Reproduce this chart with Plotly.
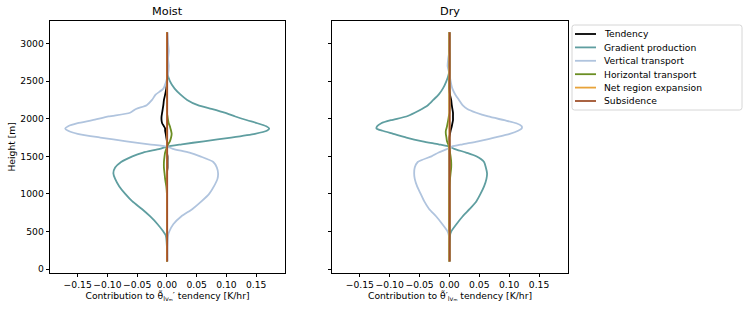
import plotly.graph_objects as go

heights = [100, 300, 450, 500, 600, 700, 800, 900, 1000, 1100, 1200, 1275, 1350, 1425,
           1500, 1550, 1600, 1630, 1660, 1700, 1750, 1800, 1840, 1870, 1900, 1940, 1980,
           2030, 2080, 2130, 2180, 2250, 2320, 2400, 2500, 2600, 2700, 2800, 2900, 3000, 3150]

series_names = ["Tendency", "Gradient production", "Vertical transport",
                "Horizontal transport", "Net region expansion", "Subsidence"]
series_colors = ["#000000", "#5F9EA0", "#B0C4DE", "#6B8E23", "#E8A33A", "#A0522D"]

# ---- Moist panel ----
moist_tendency = [0, 0, 0, 0, 0, 0, 0, 0, 0, 0, 0, 0, 0.001, 0.001,
                  0.001, 0, 0, 0, 0, 0, -0.001, -0.002, -0.003, -0.003, -0.005, -0.008, -0.009,
                  -0.009, -0.008, -0.007, -0.006, -0.005, -0.003, -0.001, 0, 0, 0, 0, 0, 0, 0]
moist_gradient = [0, 0, -0.002, -0.006, -0.016, -0.028, -0.042, -0.058, -0.070, -0.080, -0.087, -0.090, -0.087, -0.077,
                  -0.058, -0.040, -0.012, 0.0, 0.025, 0.062, 0.108, 0.148, 0.168, 0.172, 0.167, 0.152, 0.135,
                  0.115, 0.097, 0.075, 0.052, 0.034, 0.023, 0.013, 0.005, 0.001, 0, 0, 0, 0, 0]
moist_vertical = [0.001, 0.001, 0.002, 0.004, 0.011, 0.024, 0.043, 0.058, 0.071, 0.079, 0.085, 0.086, 0.084, 0.078,
                  0.056, 0.038, 0.010, 0.0, -0.030, -0.068, -0.112, -0.150, -0.166, -0.171, -0.166, -0.150, -0.125,
                  -0.098, -0.062, -0.052, -0.034, -0.025, -0.019, -0.006, -0.001, 0.002, 0.003, 0.002, 0.003, 0.002, 0.001]
moist_horizontal = [0, 0, 0, 0, 0, 0, 0, 0, 0, -0.001, -0.003, -0.004, -0.005, -0.005,
                    -0.004, -0.003, -0.001, 0, 0.002, 0.005, 0.007, 0.008, 0.007, 0.006, 0.005, 0.003, 0.002,
                    0.001, 0, 0, 0, 0, 0, 0, 0, 0, 0, 0, 0, 0, 0]
moist_expansion = [0, 0, 0, 0, 0, 0, 0, 0, 0, 0, 0, 0, 0, 0,
                   0, 0, 0, 0, 0, 0, 0, 0, 0, 0, 0, 0, 0,
                   0, 0, 0, 0, 0, 0, 0, 0, 0, 0, 0, 0, 0, 0]
moist_subsidence = [0.0005, 0.0005, 0.0005, 0.0005, 0.0005, 0.0005, 0.0005, 0.0005, 0.0005, 0.0005, 0.0005, 0.0005, 0.0005, 0.0005,
                    0.0005, 0.0005, 0.0005, 0.0005, 0.0005, 0.0005, 0.0005, 0.0005, 0.0005, 0.0005, 0.0005, 0.0005, 0.0005,
                    0.0005, 0.0005, 0.0005, 0.0005, 0.0005, 0.0005, 0.0005, 0.0005, 0.0005, 0.0005, 0.0005, 0.0005, 0.0005, 0.0005]

# ---- Dry panel ----
dry_tendency = [0, 0, 0, 0, 0, 0, 0, 0, 0, 0, 0, 0, 0, 0,
                0, 0, 0, 0, 0, 0, 0, 0.001, 0.002, 0.003, 0.004, 0.005, 0.006,
                0.006, 0.006, 0.005, 0.004, 0.003, 0.001, 0, 0, 0, 0, 0, 0, 0, 0]
dry_gradient = [0, 0, 0.001, 0.003, 0.012, 0.022, 0.034, 0.045, 0.052, 0.058, 0.062, 0.063, 0.061, 0.058,
                0.045, 0.028, 0.008, 0.0, -0.018, -0.045, -0.072, -0.094, -0.112, -0.122, -0.121, -0.114, -0.098,
                -0.072, -0.058, -0.046, -0.036, -0.027, -0.018, -0.011, -0.005, -0.001, 0, 0, 0, 0, 0]
dry_vertical = [0, 0, -0.001, -0.003, -0.012, -0.022, -0.034, -0.042, -0.048, -0.054, -0.058, -0.059, -0.058, -0.053,
                -0.030, -0.018, -0.003, 0.004, 0.022, 0.048, 0.075, 0.101, 0.115, 0.121, 0.121, 0.112, 0.092,
                0.065, 0.045, 0.030, 0.022, 0.016, 0.010, 0.005, 0.002, 0, -0.003, -0.002, 0, 0, 0]
dry_horizontal = [0, 0, 0, 0, 0, 0, 0, 0, 0, 0, 0.001, 0.002, 0.003, 0.003,
                  0.002, 0.001, 0, -0.001, -0.002, -0.004, -0.005, -0.006, -0.006, -0.005, -0.004, -0.003, -0.002,
                  -0.001, 0, 0, 0, 0, 0, 0, 0, 0, 0, 0, 0, 0, 0]
dry_expansion = [0, 0, 0, 0, 0, 0, 0, 0, 0, 0, 0, 0, 0, 0,
                 0, 0, 0, 0, 0, 0, 0, 0, 0, 0, 0, 0, 0,
                 0, 0, 0, 0, 0, 0, 0, 0, 0, 0, 0, 0, 0, 0]
dry_subsidence = [0.0005, 0.0005, 0.0005, 0.0005, 0.0005, 0.0005, 0.0005, 0.0005, 0.0005, 0.0005, 0.0005, 0.0005, 0.0005, 0.0005,
                  0.0005, 0.0005, 0.0005, 0.0005, 0.0005, 0.0005, 0.0005, 0.0005, 0.0005, 0.0005, 0.0005, 0.0005, 0.0005,
                  0.0005, 0.0005, 0.0005, 0.0005, 0.0005, 0.0005, 0.0005, 0.0005, 0.0005, 0.0005, 0.0005, 0.0005, 0.0005, 0.0005]

x_ticks = [-0.15, -0.10, -0.05, 0.00, 0.05, 0.10, 0.15]
y_ticks = [0, 500, 1000, 1500, 2000, 2500, 3000]
panel_titles = ["Moist", "Dry"]
x_titles = ["Contribution to θ̃<sub>lvₘ</sub>′ tendency [K/hr]",
            "Contribution to θ̃′<sub>lvₘ</sub> tendency [K/hr]"]
y_title = "Height [m]"

W, H = 748, 313
FONT = "DejaVu Sans"
TICK_SIZE = 9.2
LABEL_SIZE = 9.2
TITLE_SIZE = 11.3

moist = [moist_tendency, moist_gradient, moist_vertical, moist_horizontal, moist_expansion, moist_subsidence]
dry = [dry_tendency, dry_gradient, dry_vertical, dry_horizontal, dry_expansion, dry_subsidence]

fig = go.Figure()
for panel, (xa, ya, data) in enumerate([("x", "y", moist), ("x2", "y2", dry)]):
    for i, vals in enumerate(data):
        fig.add_trace(go.Scatter(
            x=vals, y=heights, mode="lines", name=series_names[i],
            line=dict(color=series_colors[i], width=1.8, shape="spline", smoothing=0.6),
            xaxis=xa, yaxis=ya, showlegend=False,
        ))


def px_x(p):
    return p / W


def px_y(p):
    return 1 - p / H


axis_common = dict(
    showgrid=False, zeroline=False, showline=True, linecolor="black", linewidth=0.8,
    mirror=True, ticks="outside", ticklen=3.5, tickwidth=0.8, tickcolor="black",
    tickfont=dict(family=FONT, size=TICK_SIZE, color="black"), automargin=False,
    tickangle=0,
)
xdom1 = [px_x(50), px_x(285)]
xdom2 = [px_x(332), px_x(568)]
ydom = [px_y(272.7), px_y(21)]
xrange = [-0.1965, 0.1985]
yrange = [-48, 3300]

lab_font = dict(family=FONT, size=LABEL_SIZE, color="black")
fig.update_layout(
    width=W, height=H, margin=dict(l=0, r=0, t=0, b=0, autoexpand=False),
    paper_bgcolor="white", plot_bgcolor="white",
    font=dict(family=FONT, size=TICK_SIZE, color="black"),
    showlegend=False,
    xaxis=dict(domain=xdom1, range=xrange, tickvals=x_ticks, tickformat=".2f", anchor="y",
               title=dict(text=x_titles[0], font=lab_font, standoff=3), **axis_common),
    xaxis2=dict(domain=xdom2, range=xrange, tickvals=x_ticks, tickformat=".2f", anchor="y2",
                title=dict(text=x_titles[1], font=lab_font, standoff=3), **axis_common),
    yaxis=dict(domain=ydom, range=yrange, tickvals=y_ticks, anchor="x",
               title=dict(text=y_title, font=lab_font, standoff=3), **axis_common),
    yaxis2=dict(domain=ydom, range=yrange, tickvals=y_ticks, anchor="x2", matches="y",
                showticklabels=False, **axis_common),
)

for title, dom in zip(panel_titles, [xdom1, xdom2]):
    fig.add_annotation(text=title, x=(dom[0] + dom[1]) / 2, y=ydom[1], xref="paper", yref="paper",
                       xanchor="center", yanchor="bottom", yshift=1, showarrow=False,
                       font=dict(family=FONT, size=TITLE_SIZE, color="black"))

# ---- legend box (matplotlib-style framed key) ----
lx0, lx1, ly0, ly1, r = 572, 742, 25, 110, 2.5
path = (f"M {px_x(lx0 + r)},{px_y(ly0)} L {px_x(lx1 - r)},{px_y(ly0)} "
        f"Q {px_x(lx1)},{px_y(ly0)} {px_x(lx1)},{px_y(ly0 + r)} "
        f"L {px_x(lx1)},{px_y(ly1 - r)} Q {px_x(lx1)},{px_y(ly1)} {px_x(lx1 - r)},{px_y(ly1)} "
        f"L {px_x(lx0 + r)},{px_y(ly1)} Q {px_x(lx0)},{px_y(ly1)} {px_x(lx0)},{px_y(ly1 - r)} "
        f"L {px_x(lx0)},{px_y(ly0 + r)} Q {px_x(lx0)},{px_y(ly0)} {px_x(lx0 + r)},{px_y(ly0)} Z")
fig.add_shape(type="path", path=path, xref="paper", yref="paper",
              line=dict(color="#d6d6d6", width=1), fillcolor="rgba(255,255,255,0.8)", layer="above")
row0, row_step = 34.0, 13.4
for i, (name, color) in enumerate(zip(series_names, series_colors)):
    yc = row0 + i * row_step
    fig.add_shape(type="line", xref="paper", yref="paper",
                  x0=px_x(575), x1=px_x(596), y0=px_y(yc), y1=px_y(yc),
                  line=dict(color=color, width=1.8), layer="above")
    fig.add_annotation(text=name, x=px_x(602), y=px_y(yc), xref="paper", yref="paper",
                       xanchor="left", yanchor="middle", showarrow=False,
                       font=dict(family=FONT, size=TICK_SIZE, color="black"))

fig.write_html("out.html", config={"displayModeBar": False},
               post_script="document.body.style.margin='0px';")
